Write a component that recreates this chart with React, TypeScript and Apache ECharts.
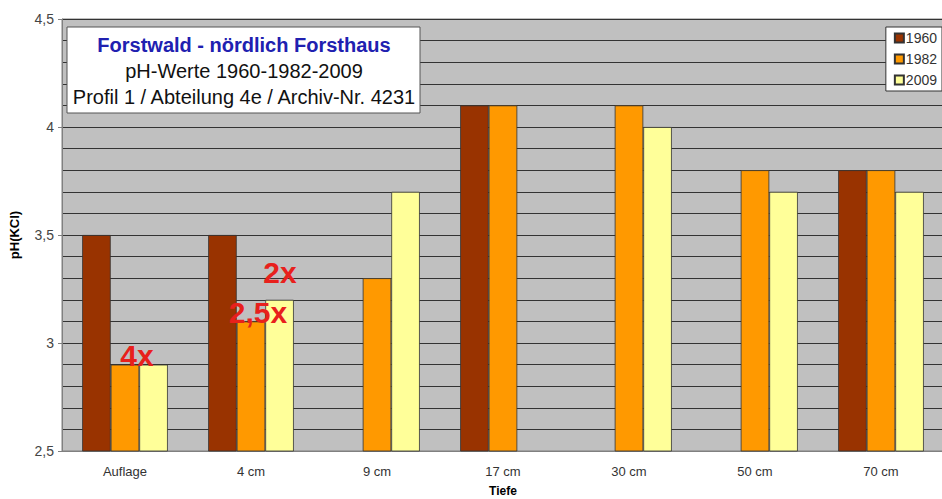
import React, { useEffect, useRef } from "react";
import * as echarts from "echarts";

const categories = ["Auflage", "4 cm", "9 cm", "17 cm", "30 cm", "50 cm", "70 cm"];
const seriesNames = ["1960", "1982", "2009"];
const values1960 = [3.5, 3.5, null, 4.1, null, null, 3.8];
const values1982 = [2.9, 3.1, 3.3, 4.1, 4.1, 3.8, 3.8];
const values2009 = [2.9, 3.2, 3.7, null, 4.0, 3.7, 3.7];
const seriesColors = ["#993300", "#FF9900", "#FFFF99"];
const titleLines = [
  "Forstwald - nördlich Forsthaus",
  "pH-Werte 1960-1982-2009",
  "Profil 1 / Abteilung 4e / Archiv-Nr. 4231",
];
const annotations = [
  { text: "4x", x: 137, y: 355 },
  { text: "2x", x: 280, y: 272 },
  { text: "2,5x", x: 258, y: 312 },
];

export default function App() {
  const ref = useRef<HTMLDivElement>(null);
  useEffect(() => {
    if (!ref.current) return;
    const chart = echarts.init(ref.current, null, { renderer: "svg" });
    const data = [values1960, values1982, values2009];
    const font = "Liberation Sans, Arial, sans-serif";
    chart.setOption({
      animation: false,
      backgroundColor: "#ffffff",
      textStyle: { fontFamily: font },
      grid: {
        left: 62,
        right: -2,
        top: 19,
        bottom: 48,
        outerBoundsMode: "none",
        containLabel: false,
        show: true,
        backgroundColor: "#C0C0C0",
        borderColor: "#808080",
        borderWidth: 1,
      },
      legend: {
        orient: "vertical",
        right: 0,
        top: 27,
        data: seriesNames,
        icon: "rect",
        itemWidth: 9,
        itemHeight: 9,
        itemGap: 7,
        backgroundColor: "#ffffff",
        borderColor: "#333333",
        borderWidth: 1,
        padding: [4, 5, 4, 8],
        textStyle: { fontSize: 14, color: "#333333", fontFamily: font, padding: [0, 0, 0, -3] },
      },
      xAxis: {
        type: "category",
        data: categories,
        name: "Tiefe",
        nameLocation: "middle",
        nameGap: 34,
        nameTextStyle: { fontWeight: "bold", fontSize: 12, color: "#000" },
        axisLine: { show: true, lineStyle: { color: "#808080", width: 1 } },
        axisTick: { show: false },
        axisLabel: { fontSize: 13, color: "#333333", margin: 14 },
      },
      yAxis: {
        type: "value",
        min: 2.5,
        max: 4.5,
        interval: 0.5,
        name: "pH(KCl)",
        nameLocation: "middle",
        nameGap: 41,
        nameTextStyle: { fontWeight: "bold", fontSize: 13, color: "#000" },
        axisLine: { show: true, lineStyle: { color: "#808080" } },
        axisTick: { show: true, length: 4, lineStyle: { color: "#808080" } },
        axisLabel: {
          fontSize: 14,
          color: "#444444",
          margin: 8,
          formatter: (v: number) => String(Math.round(v * 10) / 10).replace(".", ","),
        },
        splitLine: { show: true, lineStyle: { color: "#333333", width: 1 } },
        minorTick: { show: false, splitNumber: 5 },
        minorSplitLine: { show: true, lineStyle: { color: "#333333", width: 1, opacity: 1 } },
      },
      series: seriesNames.map((name, i) => ({
        name,
        type: "bar",
        data: data[i],
        barGap: "0%",
        barCategoryGap: "32%",
        itemStyle: { color: seriesColors[i], borderColor: "#333333", borderWidth: 0.8 },
      })),
      graphic: [
        {
          type: "rect",
          shape: { x: 67, y: 27, width: 353, height: 86 },
          style: { fill: "#ffffff", stroke: "#555555", lineWidth: 1 },
          z: 100,
        },
        ...titleLines.map((t, i) => ({
          type: "text",
          x: 244,
          y: 45 + i * 26,
          z: 101,
          style: {
            text: t,
            fontSize: 20,
            fontFamily: font,
            fontWeight: i === 0 ? "bold" : "normal",
            fill: i === 0 ? "#2020B0" : "#111111",
            textAlign: "center",
            textVerticalAlign: "middle",
          },
        })),
        ...annotations.map((a) => ({
          type: "text",
          x: a.x,
          y: a.y,
          z: 101,
          style: {
            text: a.text,
            fontSize: 30,
            fontFamily: font,
            fontWeight: "bold",
            fill: "#E8201C",
            textAlign: "center",
            textVerticalAlign: "middle",
          },
        })),
      ],
    });
    return () => chart.dispose();
  }, []);
  return (
    <div
      ref={ref}
      style={{ position: "absolute", left: 0, top: 0, width: 942, height: 499 }}
    />
  );
}
